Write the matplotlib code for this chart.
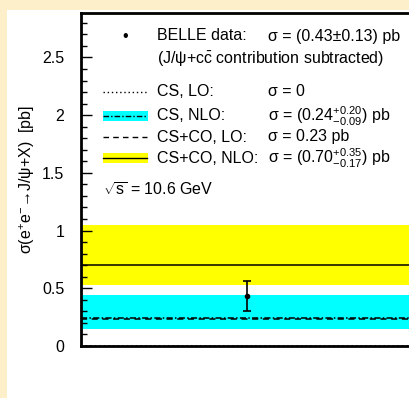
import matplotlib
matplotlib.use("Agg")
import matplotlib.pyplot as plt
from matplotlib.patches import Rectangle
from matplotlib.lines import Line2D
from matplotlib.ticker import MultipleLocator

plt.rcParams['font.family'] = ['Liberation Sans', 'DejaVu Sans']
plt.rcParams['mathtext.fontset'] = 'custom'
plt.rcParams['mathtext.rm'] = 'Liberation Sans'
plt.rcParams['mathtext.it'] = 'Liberation Sans:italic'
plt.rcParams['mathtext.bf'] = 'Liberation Sans:bold'

# data (pb)
belle_x = [0.5]
belle_val = [0.43]
belle_err = [0.13]

cs_lo = 0.0
cs_nlo = 0.24
cs_nlo_lo, cs_nlo_hi = 0.09, 0.20
csco_lo = 0.23
csco_nlo = 0.70
csco_nlo_lo, csco_nlo_hi = 0.17, 0.35

yticks = [0, 0.5, 1, 1.5, 2, 2.5]
yticklabels = ["0", "0.5", "1", "1.5", "2", "2.5"]

CREAM = "#fdefc9"
CYAN = "#00ffff"
YELLOW = "#ffff00"

W, H = 409, 398
fig = plt.figure(figsize=(W / 100, H / 100), dpi=100, facecolor=CREAM)
fig.patches.append(Rectangle((7 / W, 0), 1, 1 - 10 / H, transform=fig.transFigure,
                             facecolor="white", edgecolor="none", zorder=-5))


def px(x, y):
    # pixel from top-left -> figure fraction
    return x / W, 1 - y / H


x0, x1 = 81, 413
ytop, ybot = 13, 346
ax = fig.add_axes([x0 / W, 1 - ybot / H, (x1 - x0) / W, (ybot - ytop) / H])
ax.set_facecolor("none")
ax.set_xlim(0, 1)
ax.set_ylim(0, 2.885)

# bands
ax.axhspan(csco_nlo - csco_nlo_lo, csco_nlo + csco_nlo_hi, color=YELLOW, lw=0, zorder=1)
ax.axhspan(cs_nlo - cs_nlo_lo, cs_nlo + cs_nlo_hi, color=CYAN, lw=0, zorder=1)
ax.axhline(csco_nlo, color="black", lw=1.1, zorder=2)
ax.axhline(cs_lo, color="black", lw=1.1, ls=(0, (1, 2)), zorder=2)
ax.axhline(csco_lo, color="black", lw=1.1, ls=(0, (4, 3)), zorder=2)
ax.axhline(cs_nlo, color="black", lw=1.1, ls=(0, (4, 1.5, 1, 1.5)), zorder=2)

ax.errorbar(belle_x, belle_val, yerr=belle_err, fmt="o", ms=3, color="black",
            ecolor="black", elinewidth=1.2, capsize=3, capthick=1.2, zorder=3)

ax.set_yticks(yticks)
ax.set_yticklabels(yticklabels, fontsize=11.5)
ax.yaxis.set_minor_locator(MultipleLocator(0.1))
ax.tick_params(axis="y", which="major", direction="in", length=8, width=1, pad=12)
ax.tick_params(axis="y", which="minor", direction="in", length=4, width=1)
ax.tick_params(axis="x", bottom=False, labelbottom=False)
for s in ax.spines.values():
    s.set_linewidth(2)
    s.set_zorder(4)

ax.set_ylabel(r"σ(e$^{+}$e$^{-}$→J/ψ+X)  [pb]", fontsize=11.5)
ax.yaxis.set_label_coords(-0.163, 0.5)
ax.yaxis.label.set_va("center")

fs = 11.5
tx1, tx2 = 157, 268
fig.text(*px(125, 36), "•", fontsize=fs, ha="center", va="center")
fig.text(*px(tx1, 36), "BELLE data:", fontsize=fs, va="center")
fig.text(*px(tx2, 36), "σ = (0.43±0.13) pb", fontsize=fs, va="center")
fig.text(*px(tx1, 59), r"(J/ψ+c$\bar{\mathrm{c}}$ contribution subtracted)", fontsize=fs, va="center")

rows = [
    (92, "CS, LO:", "σ = 0", (0, (1, 2)), None),
    (116, "CS, NLO:", r"σ = (0.24$^{+0.20}_{-0.09}$) pb", (0, (4, 1.5, 1, 1.5)), CYAN),
    (137, "CS+CO, LO:", "σ = 0.23 pb", (0, (4, 3)), None),
    (158, "CS+CO, NLO:", r"σ = (0.70$^{+0.35}_{-0.17}$) pb", "-", YELLOW),
]
for y, name, val, ls, band in rows:
    if band:
        bx, by = px(103, y + 5)
        fig.patches.append(Rectangle((bx, by), 45 / W, 10 / H, transform=fig.transFigure,
                                     facecolor=band, edgecolor="none", zorder=1))
    xa, ya = px(103, y)
    xb, _ = px(147, y)
    fig.add_artist(Line2D([xa, xb], [ya, ya], color="black", lw=1.0, ls=ls, zorder=2))
    fig.text(*px(tx1, y), name, fontsize=fs, va="center")
    fig.text(*px(tx2, y), val, fontsize=fs, va="center")

fig.text(*px(103, 190), r"$\sqrt{\mathrm{s}}$ = 10.6 GeV", fontsize=fs, va="center")

fig.savefig("out.png", dpi=100, facecolor=CREAM)
